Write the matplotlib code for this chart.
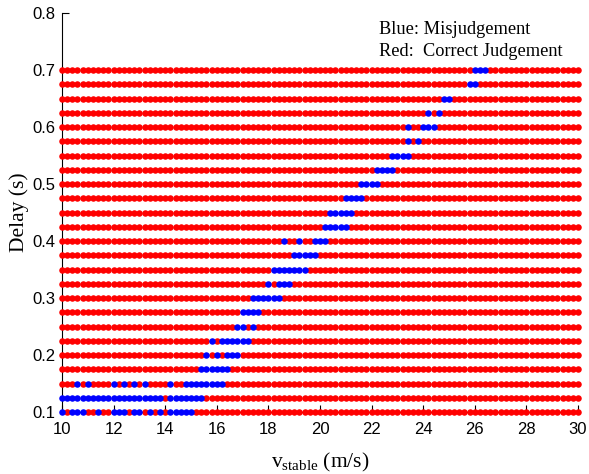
import numpy as np
import matplotlib
matplotlib.use("Agg")
import matplotlib.pyplot as plt

# grid of the test: speeds 10:0.2:30 m/s, delays 0.1:0.025:0.7 s
speeds = np.round(np.arange(10, 30.001, 0.2), 1)
delays = np.round(np.arange(0.1, 0.7001, 0.025), 3)

# speeds (m/s) judged wrong for each delay, bottom row first
misjudged = [
    [10.0, 10.4, 10.6, 10.8, 11.4, 12.0, 12.2, 12.4, 12.8, 13.0, 13.4, 13.8, 14.2, 14.4, 14.6, 14.8, 15.0],
    [10.0, 10.2, 10.4, 10.6, 10.8, 11.0, 11.2, 11.4, 11.6, 11.8, 12.0, 12.2, 12.4, 12.6, 12.8, 13.0,
     13.2, 13.4, 13.6, 13.8, 14.2, 14.4, 14.6, 14.8, 15.0, 15.2, 15.4],
    [10.6, 11.0, 12.0, 12.4, 12.8, 13.2, 14.2, 14.8, 15.0, 15.2, 15.4, 15.6, 15.8, 16.0, 16.2],
    [15.4, 15.6, 15.8, 16.0, 16.2, 16.4],
    [15.6, 16.0, 16.4, 16.6, 16.8],
    [15.8, 16.2, 16.4, 16.6, 16.8, 17.0, 17.2],
    [16.8, 17.0, 17.4],
    [17.0, 17.2, 17.4, 17.6],
    [17.4, 17.6, 17.8, 18.0, 18.2, 18.4],
    [18.0, 18.4, 18.6, 18.8],
    [18.2, 18.4, 18.6, 18.8, 19.0, 19.2, 19.4],
    [19.0, 19.2, 19.4, 19.6, 19.8],
    [18.6, 19.2, 19.8, 20.0, 20.2],
    [20.2, 20.4, 20.6, 20.8, 21.0],
    [20.4, 20.6, 20.8, 21.0, 21.2],
    [21.0, 21.2, 21.4, 21.6],
    [21.6, 21.8, 22.0, 22.2],
    [22.2, 22.4, 22.6, 22.8],
    [22.8, 23.0, 23.2, 23.4],
    [23.4, 23.8],
    [23.4, 24.0, 24.2, 24.4],
    [24.2, 24.6],
    [24.8, 25.0],
    [25.8, 26.0],
    [26.0, 26.2, 26.4],
]

xticks = np.arange(10, 31, 2)
yticks = np.round(np.arange(0.1, 0.81, 0.1), 1)

fig = plt.figure(figsize=(5.89, 4.74), dpi=100)
ax = fig.add_axes([62/589, 1 - 412/474, (578-62)/589, (412-13)/474])

for d, bad in zip(delays, misjudged):
    wrong = np.isin(speeds, np.round(bad, 1))
    ax.plot(speeds[~wrong], np.full((~wrong).sum(), d), 'o', color=(1, 0, 0),
            ms=4.7, mew=0, clip_on=False, zorder=3)
    ax.plot(speeds[wrong], np.full(wrong.sum(), d), 'o', color=(0, 0, 1),
            ms=4.7, mew=0, clip_on=False, zorder=3)

ax.set_xlim(10, 30)
ax.set_ylim(0.1, 0.8)
ax.set_xticks(xticks)
ax.set_yticks(yticks)
ax.set_xticklabels([str(t) for t in xticks], family='Liberation Sans', fontsize=12)
ax.set_yticklabels([f"{t:.1f}" for t in yticks], family='Liberation Sans', fontsize=12)
ax.tick_params(direction='in', length=5, width=0.8)
ax.tick_params(axis='x', pad=7)
ax.tick_params(axis='y', pad=5)
ax.spines['top'].set_visible(False)
ax.spines['right'].set_visible(False)

ax.set_xlabel(r'$\mathregular{v_{stable}}$ (m/s)', family='Liberation Serif', fontsize=15.5, labelpad=10.5)
ax.set_ylabel('Delay (s)', family='Liberation Serif', fontsize=15.5, labelpad=2)

ax.text(0.615, 0.947, 'Blue: Misjudgement', transform=ax.transAxes,
        family='Liberation Serif', fontsize=13.2, va='baseline')
ax.text(0.615, 0.892, 'Red:  Correct Judgement', transform=ax.transAxes,
        family='Liberation Serif', fontsize=13.2, va='baseline')

fig.savefig('out.png', dpi=100)
